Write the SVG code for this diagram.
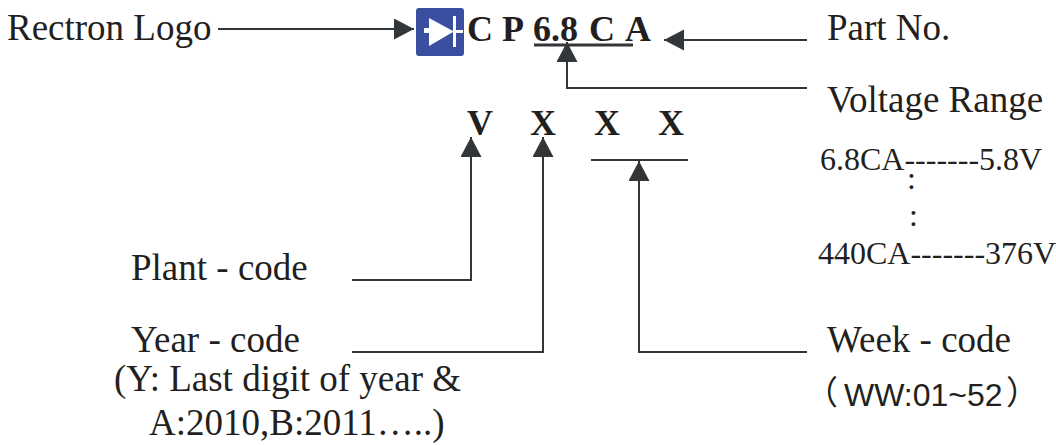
<svg xmlns="http://www.w3.org/2000/svg" width="1056" height="445" viewBox="0 0 1056 445">
<defs><marker id="a" markerUnits="userSpaceOnUse" markerWidth="22" markerHeight="22" refX="20" refY="10.5" orient="auto"><path d="M0 0L20 10.5L0 21Z" fill="#333638"/></marker></defs>
<style>
text{font-family:"Liberation Serif",serif;fill:#231f20}
.l{font-size:37px}
.b{font-size:36px;font-weight:bold}
.s{font-size:32px}
.h{font-family:"Liberation Sans",sans-serif;font-size:32px}
.p{font-family:"Noto Sans CJK SC",sans-serif;font-size:33px}
.c{fill:none;stroke:#333638;stroke-width:2}
</style>
<g id="connectors">
<path class="c" d="M218 29H414" marker-end="url(#a)"/>
<path class="c" d="M807 40H664" marker-end="url(#a)"/>
<path class="c" d="M807 88H567V42" marker-end="url(#a)"/>
<path class="c" d="M352 280H471V137" marker-end="url(#a)"/>
<path class="c" d="M352 352H543V137" marker-end="url(#a)"/>
<path class="c" d="M807 352H639V161" marker-end="url(#a)"/>
<path d="M534 45H633" fill="none" stroke="#333638" stroke-width="3"/>
<path class="c" d="M591 160H688"/>
</g>
<g id="logo"><rect x="416" y="8" width="48" height="48" rx="3" fill="#3a4fa0"/><path d="M424 28H429V18L453 31V16H456V30H463V33H456V47H453V32L429 46V33H424Z" fill="#fff"/></g>
<g id="rectron-logo"><text class="l" x="7" y="40">Rectron Logo</text></g>
<g id="part"><text class="b" x="467" y="41">C</text><text class="b" x="502" y="41">P</text><text class="b" x="533" y="41">6.8</text><text class="b" x="589" y="41">C</text><text class="b" x="625" y="41">A</text><text class="l" x="827" y="40">Part No.</text></g>
<g id="voltage"><text class="l" x="827" y="112">Voltage Range</text><text class="s" x="820" y="170">6.8CA-------5.8V</text><text class="s" x="907" y="189">:</text><text class="s" x="909" y="226">:</text><text class="s" x="818" y="264">440CA-------376V</text></g>
<g id="code"><text class="b" x="467" y="135">V</text><text class="b" x="530" y="135">X</text><text class="b" x="594" y="135">X</text><text class="b" x="658" y="135">X</text></g>
<g id="plant"><text class="l" x="131" y="280">Plant - code</text></g>
<g id="year"><text class="l" x="131" y="352">Year - code</text><text class="l" x="114" y="391">(Y: Last digit of year &amp;</text><text class="l" x="149" y="435">A:2010,B:2011…..)</text></g>
<g id="week"><text class="l" x="827" y="352">Week - code</text><text class="h" x="844" y="406">WW:01~52</text><text class="p" x="805" y="404">（</text><text class="p" x="1006" y="404">）</text></g>
</svg>
